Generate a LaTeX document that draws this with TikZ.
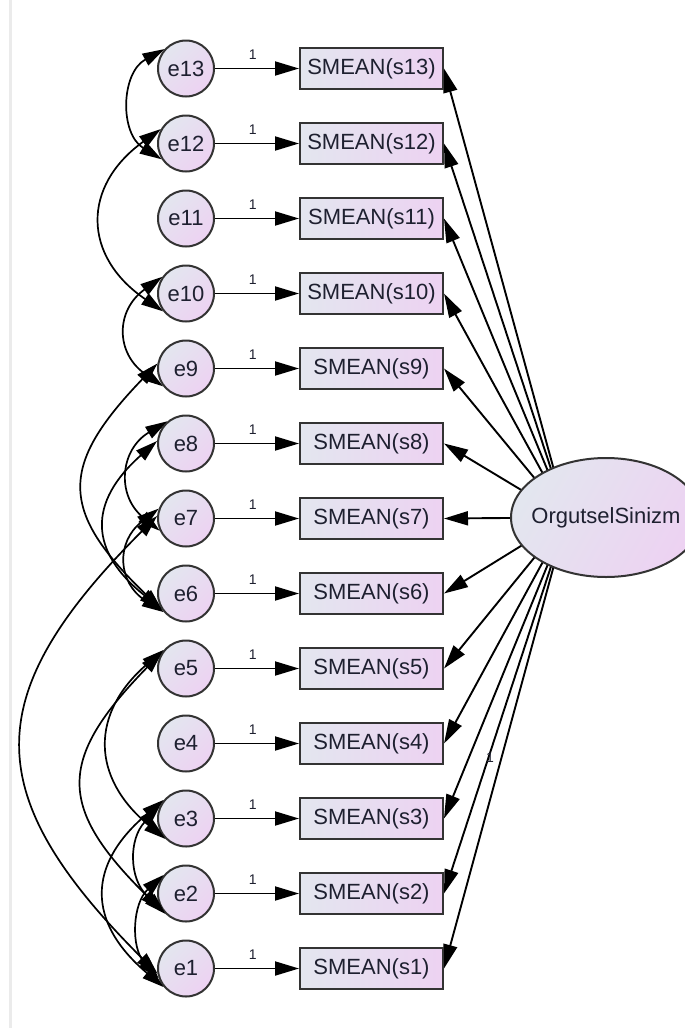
\documentclass[tikz,border=0pt]{standalone}
\usepackage{fontspec}
\setmainfont{Liberation Sans}
\usetikzlibrary{shapes.geometric,arrows.meta,backgrounds}
\definecolor{shadeA}{HTML}{E3E6EF}
\definecolor{shadeB}{HTML}{EDD2F2}
\definecolor{edgegray}{HTML}{333333}
\definecolor{inkc}{HTML}{1E2030}
\definecolor{rulegray}{HTML}{EBEBEB}
\begin{document}
\begin{tikzpicture}[x=1pt,y=1pt,
  obs/.style={rectangle, draw=edgegray, line width=2pt,
    minimum width=143pt, minimum height=41pt, inner sep=0pt,
    left color=shadeA, right color=shadeB, text=inkc,
    font=\fontsize{22}{24}\selectfont},
  err/.style={circle, draw=edgegray, line width=2pt,
    minimum size=56pt, inner sep=0pt,
    left color=shadeA, right color=shadeB, shading angle=45, text=inkc,
    font=\fontsize{22}{24}\selectfont},
  lat/.style={ellipse, draw=edgegray, line width=2pt,
    minimum width=190pt, minimum height=119pt, inner xsep=-35pt, inner ysep=0pt,
    left color=shadeA, right color=shadeB, shading angle=60, text=inkc,
    font=\fontsize{22}{24}\selectfont},
  reg/.style={line width=1.9pt, draw=black, -{Triangle[length=24pt,width=14pt]}},
  cov/.style={line width=1.7pt, draw=black,
    {Triangle[length=22pt,width=13pt]}-{Triangle[length=22pt,width=13pt]}},
  one/.style={font=\fontsize{14}{16}\selectfont, text=inkc, inner sep=0pt}
]
\useasboundingbox (0,0) rectangle (685,-1028);

% indicators and their error terms
\foreach \i in {1,...,13} {
  \pgfmathsetmacro\yy{-(68.5+(13-\i)*75)}
  \node[err] (e\i) at (186,\yy) {e\i};
  \node[obs] (s\i) at (371.5,\yy) {SMEAN(s\i)};
  \draw[reg] (e\i) -- (s\i) node[one, pos=0.45, above=8pt] {1};
}

% latent factor
\node[lat] (F) at (606,-517.5) {OrgutselSinizm};
\coordinate (hub) at (567,-517.5);
\node[one] (w1) at (490,-758) {1};

\begin{scope}[on background layer]
  \fill[white] (0,0) rectangle (685,-1028);
  \draw[rulegray, line width=3pt] (10,0) -- (10,-1028);
  \foreach \i in {1,...,13} \draw[reg] (hub) -- (s\i.east);
\end{scope}

% error covariances
\draw[cov] (e13.138) to[bend right=60, looseness=1.15] (e12.213);
\draw[cov] (e12.150) to[bend right=55, looseness=1.37] (e10.218);
\draw[cov] (e10.145) to[bend right=55, looseness=1.35] (e9.218);
\draw[cov] (e9.170)  to[bend right=45, looseness=1.48] (e6.215);
\draw[cov] (e8.175)  to[bend right=50, looseness=1.41] (e6.212);
\draw[cov] (e8.130)  to[bend right=55, looseness=1.30] (e7.205);
\draw[cov] (e7.160)  to[bend right=55, looseness=1.35] (e6.220);
\draw[cov] (e7.175)  to[bend right=45, looseness=1.42] (e1.190);
\draw[cov] (e5.145)  to[bend right=45, looseness=1.48] (e2.225);
\draw[cov] (e5.140)  to[bend right=50, looseness=1.31] (e3.225);
\draw[cov] (e3.140)  to[bend right=50, looseness=1.38] (e1.220);
\draw[cov] (e3.155)  to[bend right=45, looseness=1.12] (e2.215);
\draw[cov] (e2.140)  to[bend right=45, looseness=1.04] (e1.200);
\end{tikzpicture}
\end{document}
